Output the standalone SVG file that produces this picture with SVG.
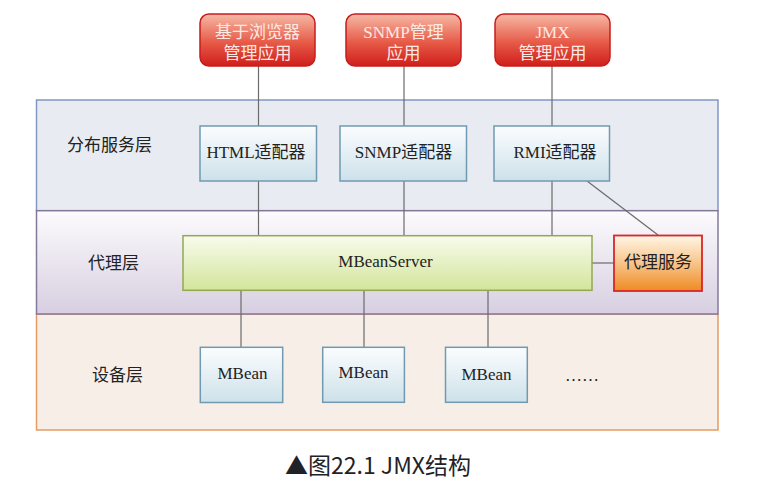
<svg xmlns="http://www.w3.org/2000/svg" width="776" height="490" viewBox="0 0 776 490">
<defs>
<linearGradient id="gRed" x1="0" y1="0" x2="0" y2="1"><stop offset="0" stop-color="#f6b9a6"/><stop offset="0.55" stop-color="#e65a47"/><stop offset="1" stop-color="#d01e1c"/></linearGradient>
<linearGradient id="gBlue" x1="0" y1="0" x2="0" y2="1"><stop offset="0" stop-color="#fbfdfe"/><stop offset="1" stop-color="#cde1ea"/></linearGradient>
<linearGradient id="gGreen" x1="0" y1="0" x2="0" y2="1"><stop offset="0" stop-color="#f8fbec"/><stop offset="1" stop-color="#d3e59c"/></linearGradient>
<linearGradient id="gOrange" x1="0" y1="0" x2="0" y2="1"><stop offset="0" stop-color="#fff6e6"/><stop offset="0.5" stop-color="#f8c48a"/><stop offset="1" stop-color="#ef8a22"/></linearGradient>
<linearGradient id="gLayer2" x1="0" y1="0" x2="0" y2="1"><stop offset="0" stop-color="#fcfbfd"/><stop offset="1" stop-color="#d7cfe1"/></linearGradient>
</defs>
<style>
.t{font-family:"Liberation Serif","Noto Sans CJK SC",serif;font-size:17px;fill:#222;}
.tw{font-family:"Liberation Serif","Noto Sans CJK SC",serif;font-size:17px;fill:#fde9e4;text-anchor:middle;}
.c{text-anchor:middle;}
.app{fill:url(#gRed);stroke:#c81d1d;stroke-width:1.5;}
.ad{fill:url(#gBlue);stroke:#6f9ab1;stroke-width:1.5;}
.ln{stroke:#6b6b6b;stroke-width:1.2;fill:none;}
</style>
<rect width="776" height="490" fill="#ffffff"/>
<g id="layers">
<rect id="layer-dist" x="36.5" y="100" width="681.5" height="110.7" fill="#e8ebf1" stroke="#8197c5" stroke-width="1.5"/>
<rect id="layer-device" x="36.5" y="314" width="681.5" height="116" fill="#f8eee8" stroke="#e59b62" stroke-width="1.5"/>
<rect id="layer-agent" x="36.5" y="210.7" width="681.5" height="103.3" fill="url(#gLayer2)" stroke="#85799b" stroke-width="1.5"/>
<text class="t" x="67" y="151">分布服务层</text>
<text class="t" x="88" y="269">代理层</text>
<text class="t" x="92" y="381">设备层</text>
</g>
<g id="connectors">
<line class="ln" x1="258.5" y1="66" x2="258.5" y2="236"/>
<line class="ln" x1="404" y1="66" x2="404" y2="236"/>
<line class="ln" x1="552" y1="66" x2="552" y2="236"/>
<line class="ln" x1="587" y1="181" x2="658" y2="235"/>
<line class="ln" x1="592" y1="263" x2="614" y2="263"/>
<line class="ln" x1="241" y1="290" x2="241" y2="347"/>
<line class="ln" x1="364" y1="290" x2="364" y2="347"/>
<line class="ln" x1="488" y1="290" x2="488" y2="347"/>
</g>
<g id="app-browser"><rect class="app" x="200" y="14" width="115" height="52" rx="9"/><text class="tw" x="257.5" y="38">基于浏览器</text><text class="tw" x="257.5" y="59">管理应用</text></g>
<g id="app-snmp"><rect class="app" x="346" y="14" width="115" height="52" rx="9"/><text class="tw" x="403.5" y="38">SNMP管理</text><text class="tw" x="403.5" y="59">应用</text></g>
<g id="app-jmx"><rect class="app" x="495" y="14" width="115" height="52" rx="9"/><text class="tw" x="552.5" y="38">JMX</text><text class="tw" x="552.5" y="59">管理应用</text></g>
<g id="html-adapter"><rect class="ad" x="200" y="126" width="116.5" height="55"/><text class="t c" x="256" y="158">HTML适配器</text></g>
<g id="snmp-adapter"><rect class="ad" x="340" y="126" width="126.5" height="55"/><text class="t c" x="403.5" y="158">SNMP适配器</text></g>
<g id="rmi-adapter"><rect class="ad" x="494" y="126" width="115.5" height="55"/><text class="t c" x="555" y="158">RMI适配器</text></g>
<g id="mbeanserver"><rect x="183" y="235.7" width="409" height="54.6" fill="url(#gGreen)" stroke="#94a852" stroke-width="1.5"/><text class="t c" x="385.5" y="267">MBeanServer</text></g>
<g id="agent-service"><rect x="614" y="235.5" width="88" height="55.5" fill="url(#gOrange)" stroke="#d8262a" stroke-width="1.8"/><text class="t c" x="658" y="268">代理服务</text></g>
<g id="mbean1"><rect class="ad" x="200.3" y="347.3" width="82.4" height="55.2"/><text class="t c" x="242.5" y="378.5">MBean</text></g>
<g id="mbean2"><rect class="ad" x="322.7" y="347.3" width="81.7" height="55"/><text class="t c" x="363.5" y="377.5">MBean</text></g>
<g id="mbean3"><rect class="ad" x="445.5" y="347.3" width="81.8" height="55"/><text class="t c" x="486.5" y="380">MBean</text></g>
<text class="t" x="565" y="381">……</text>
<text x="378" y="474" text-anchor="middle" font-family="'Noto Sans CJK SC','Noto Sans',sans-serif" font-size="23" fill="#1f2328">▲图22.1 JMX结构</text>
</svg>
